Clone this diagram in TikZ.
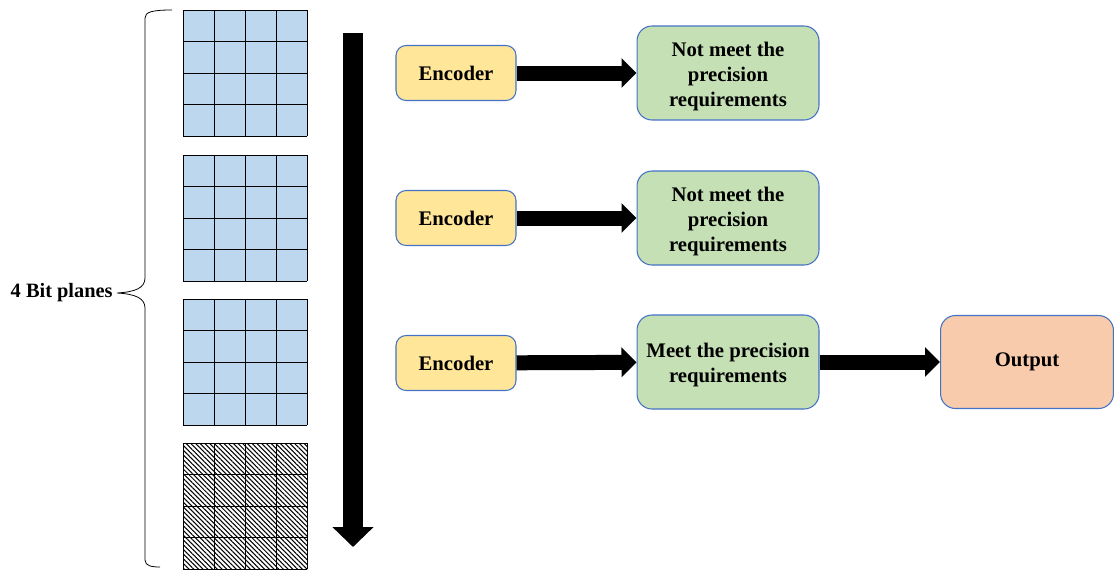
\documentclass[tikz,border=0pt]{standalone}
\usepackage{fontspec}
\setmainfont{Liberation Serif}
\usepackage{tikz}
\usetikzlibrary{arrows.meta,patterns.meta}

\definecolor{cellblue}{HTML}{BDD7EE}
\definecolor{encyellow}{HTML}{FFE699}
\definecolor{resgreen}{HTML}{C5E0B4}
\definecolor{outorange}{HTML}{F8CBAD}
\definecolor{boxline}{HTML}{4472C4}

\tikzset{
  box/.style={draw=boxline,line width=0.6pt,align=center,
    font=\fontsize{11.8}{14.2}\selectfont\bfseries},
  encbox/.style={box,fill=encyellow,rounded corners=0.2cm,
    minimum width=2.4cm,minimum height=1.1cm},
  resbox/.style={box,fill=resgreen,rounded corners=0.3cm,
    minimum width=3.64cm,minimum height=1.88cm},
  outbox/.style={box,fill=outorange,rounded corners=0.3cm,
    minimum width=3.46cm,minimum height=1.86cm},
  bigarrow/.style={line width=0.3cm,-{Triangle[length=0.3cm,width=0.58cm]}},
  cellline/.style={line width=0.55pt}
}

\begin{document}
\begin{tikzpicture}[x=0.02cm,y=-0.02cm]
\useasboundingbox (0,0) rectangle (1114,569);

% Bit planes
\foreach \ytop in {10,155,299}{
  \fill[cellblue] (183,\ytop) rectangle (307,\ytop+126);
  \foreach \i in {0,...,4}{
    \draw[cellline] (183+31*\i,\ytop) -- ++(0,126);
    \draw[cellline] (183,\ytop+31.5*\i) -- ++(124,0);
  }
}
\fill[pattern={Lines[angle=-45,distance=1.9pt,line width=0.6pt]}] (183,443) rectangle (307,569);
\foreach \i in {0,...,4}{
  \draw[cellline] (183+31*\i,443) -- ++(0,126);
  \draw[cellline] (183,443+31.5*\i) -- ++(124,0);
}

% Brace
\draw[line width=0.45pt] (172,10) .. controls (152,10) and (145,12) .. (145,18)
  -- (145,278) .. controls (145,288) and (135,292) .. (117,293)
  .. controls (135,294) and (145,298) .. (145,308)
  -- (145,560) .. controls (145,566) and (152,567) .. (160,567);
\node[anchor=east,inner sep=0pt,font=\fontsize{11.6}{14.2}\selectfont\bfseries] (planes) at (113,293) {4 Bit planes};

% Order arrow
\coordinate (ordtop) at (353,33);
\coordinate (ordbot) at (353,547);
\draw[line width=0.4cm,-{Triangle[length=0.4cm,width=0.8cm]}] (ordtop) -- (ordbot);

% Encoders and results
\node[encbox] (enc1) at (456,73) {Encoder};
\node[encbox] (enc2) at (456,218) {Encoder};
\node[encbox] (enc3) at (456,363) {Encoder};

\node[resbox] (res1) at (728,73) {\rule{0pt}{12pt}Not meet the\\precision\\requirements};
\node[resbox] (res2) at (728,218) {\rule{0pt}{12pt}Not meet the\\precision\\requirements};
\node[resbox] (res3) at (728,362) {\rule{0pt}{11.5pt}Meet the precision\\requirements};
\node[outbox] (out) at (1027,362) {Output};

\draw[bigarrow] (enc1) -- (res1);
\draw[bigarrow] (enc2) -- (res2);
\draw[bigarrow] (enc3) -- (res3);
\draw[bigarrow] (res3) -- (out);

\end{tikzpicture}
\end{document}
